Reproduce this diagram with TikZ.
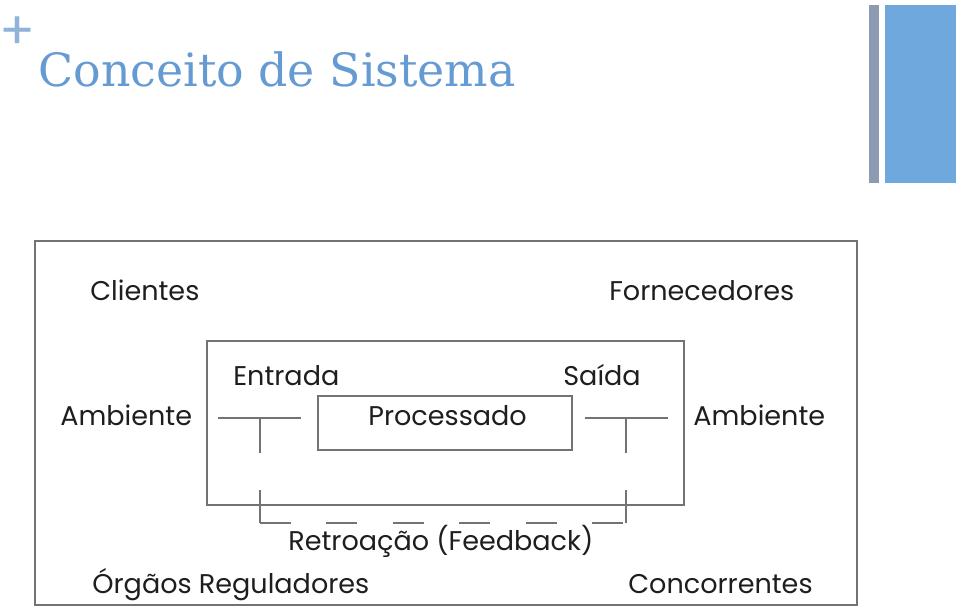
\documentclass[tikz,border=0pt]{standalone}
\usepackage{fontspec}
\setmainfont{Poppins}
\newfontfamily\titlefont{DejaVu Serif}
\usetikzlibrary{positioning}
\definecolor{titleblue}{RGB}{101,155,210}
\definecolor{plusblue}{RGB}{143,179,217}
\definecolor{bargray}{RGB}{140,154,178}
\definecolor{barblue}{RGB}{111,168,220}
\definecolor{linegray}{RGB}{115,115,115}
\definecolor{textdark}{RGB}{30,30,30}

\tikzset{
  lbl/.style={anchor=base west, inner sep=0pt, text=textdark, font=\fontsize{15.4}{18}\selectfont},
  frame/.style={draw=linegray, line width=0.9pt},
  wire/.style={draw=linegray, line width=0.9pt},
}

\begin{document}
\begin{tikzpicture}[x=0.02cm, y=-0.02cm]
  \useasboundingbox (0,0) rectangle (960,613);
  % header
  \node[text=plusblue, font=\fontsize{30}{30}\selectfont, inner sep=0pt] (plus) at (17,33) {+};
  \node[anchor=base west, inner sep=0pt, text=titleblue, font=\titlefont\fontsize{26.1}{30}\selectfont] (title) at (38,86) {Conceito de Sistema};
  \fill[bargray] (869,5) rectangle (879,183);
  \fill[barblue] (885,5) rectangle (956,183);

  % environment and system boxes
  \draw[frame] (35,241) rectangle (857,605);
  \draw[frame] (207,341) rectangle (684,505);
  \node[frame, minimum width=254*0.02cm, minimum height=54*0.02cm, inner sep=0pt] (proc) at (445,423) {};
  \node[lbl] (procl) at (368,425) {Processado};

  % labels
  \node[lbl] (cli) at (90,300) {Clientes};
  \node[lbl] (forn) at (609,300) {Fornecedores};
  \node[lbl] (ent) at (233,385) {Entrada};
  \node[lbl] (sai) at (563,385) {Saída};
  \node[lbl] (ambl) at (60,425) {Ambiente};
  \node[lbl] (ambr) at (693,425) {Ambiente};
  \node[lbl] (retro) at (288,550) {Retroação (Feedback)};
  \node[lbl] (org) at (92,593) {Órgãos Reguladores};
  \node[lbl] (conc) at (628,593) {Concorrentes};

  % input / output taps
  \coordinate (inA) at (218,418);  \coordinate (inB) at (301,418);
  \coordinate (inT) at (260,418);  \coordinate (inD) at (260,453);
  \coordinate (outA) at (585,418); \coordinate (outB) at (668,418);
  \coordinate (outT) at (626,418); \coordinate (outD) at (626,453);
  \draw[wire] (inA) -- (inB);
  \draw[wire] (inT) -- (inD);
  \draw[wire] (outA) -- (outB);
  \draw[wire] (outT) -- (outD);

  % feedback loop
  \coordinate (fbL) at (260,490); \coordinate (fbLb) at (260,523);
  \coordinate (fbR) at (626,490); \coordinate (fbRb) at (626,523);
  \draw[wire] (fbL) -- (fbLb);
  \draw[wire] (fbR) -- (fbRb);
  \draw[wire, dash pattern=on 0.62cm off 0.71cm] (fbLb) -- (fbRb);
\end{tikzpicture}
\end{document}
